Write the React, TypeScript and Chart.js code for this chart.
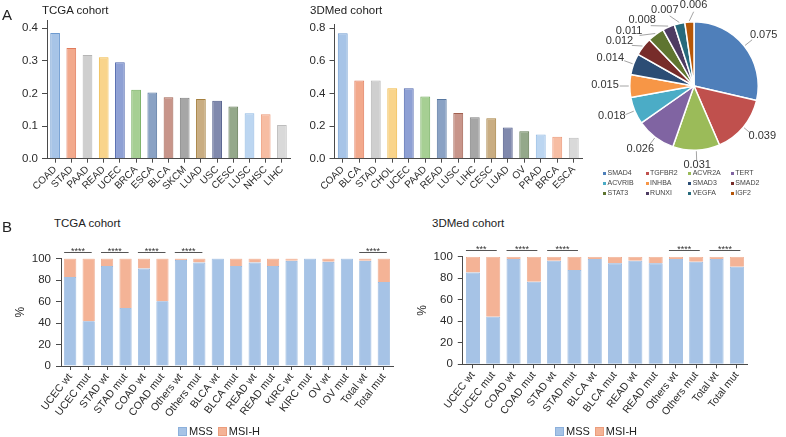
import React, { useEffect, useRef } from 'react';
import { Chart, registerables } from 'chart.js';

Chart.register(...registerables);

const FONT = 'Arial, "Liberation Sans", Helvetica, sans-serif';
Chart.defaults.font.family = FONT;

// ---------- Panel A: TCGA cohort ----------
const tcgaCancers = ['COAD', 'STAD', 'PAAD', 'READ', 'UCEC', 'BRCA', 'ESCA', 'BLCA', 'SKCM', 'LUAD', 'USC', 'CESC', 'LUSC', 'NHSC', 'LIHC'];
const tcgaFreq = [0.385, 0.339, 0.318, 0.311, 0.296, 0.211, 0.203, 0.188, 0.187, 0.183, 0.178, 0.160, 0.139, 0.136, 0.103];
const tcgaYTicks = [0, 0.1, 0.2, 0.3, 0.4];

// ---------- Panel A: 3DMed cohort ----------
const medCancers = ['COAD', 'BLCA', 'STAD', 'CHOL', 'UCEC', 'PAAD', 'READ', 'LUSC', 'LIHC', 'CESC', 'LUAD', 'OV', 'PRAD', 'BRCA', 'ESCA'];
const medFreq = [0.769, 0.479, 0.479, 0.432, 0.432, 0.381, 0.366, 0.280, 0.254, 0.248, 0.192, 0.168, 0.149, 0.135, 0.129];
const medYTicks = [0, 0.2, 0.4, 0.6, 0.8];

const barFills = ['#a7c4e7', '#f2a98c', '#cfcfcf', '#f9d48b', '#8ea0d4', '#a6cf93', '#8aa2c4', '#c8958a', '#a6a6a6', '#c9ad82', '#8089ad', '#94a88a', '#bcd6f1', '#f7bda3', '#d9d9d9'];
const barEdges = ['#6e9bd0', '#e07b5c', '#b5b5b5', '#efb845', '#4f66ad', '#73ad5e', '#5777a0', '#a2604f', '#808080', '#a5803f', '#4e5a88', '#627a53', '#8fb8e2', '#ec9877', '#bdbdbd'];

// ---------- Panel A: pie ----------
const pieGenes = ['SMAD4', 'TGFBR2', 'ACVR2A', 'TERT', 'ACVRIB', 'INHBA', 'SMAD3', 'SMAD2', 'STAT3', 'RUNXI', 'VEGFA', 'IGF2'];
const pieFreq = [0.075, 0.039, 0.031, 0.026, 0.018, 0.015, 0.014, 0.012, 0.011, 0.008, 0.007, 0.006];
const pieColors = ['#4f7fba', '#c0504d', '#9bbb59', '#8064a2', '#4bacc6', '#f79646', '#2c4d75', '#772c2a', '#5f7530', '#4d3b62', '#276a7c', '#b65708'];

// ---------- Panel B: TCGA cohort ----------
const tcgaGroups = ['UCEC wt', 'UCEC mut', 'STAD wt', 'STAD mut', 'COAD wt', 'COAD mut', 'Others wt', 'Others mut', 'BLCA wt', 'BLCA mut', 'READ wt', 'READ mut', 'KIRC wt', 'KIRC mut', 'OV wt', 'OV mut', 'Total wt', 'Total mut'];
const tcgaMSS = [82.8, 41.6, 93, 54, 90.6, 60.3, 98.7, 96.2, 100, 93.1, 96.2, 93.1, 97.8, 100, 96.9, 100, 97.8, 78.1];
const tcgaMSIH = [17.2, 58.4, 7, 46, 9.4, 39.7, 1.3, 3.8, 0, 6.9, 3.8, 6.9, 2.2, 0, 3.1, 0, 2.2, 21.9];
const tcgaSigFrom = [0, 2, 4, 6, 16];
const tcgaSigText = ['****', '****', '****', '****', '****'];

// ---------- Panel B: 3DMed cohort ----------
const medGroups = ['UCEC wt', 'UCEC mut', 'COAD wt', 'COAD mut', 'STAD wt', 'STAD mut', 'BLCA wt', 'BLCA mut', 'READ wt', 'READ mut', 'Others wt', 'Others mut', 'Total wt', 'Total mut'];
const medMSS = [85.4, 44.3, 97.8, 76.8, 96.3, 87.6, 97.8, 93.8, 96.3, 93.8, 97.8, 95.4, 97.8, 90.7];
const medMSIH = [14.6, 55.7, 2.2, 23.2, 3.7, 12.4, 2.2, 6.2, 3.7, 6.2, 2.2, 4.6, 2.2, 9.3];
const medSigFrom = [0, 2, 4, 10, 12];
const medSigText = ['***', '****', '****', '****', '****'];

const pctTicks = [0, 20, 40, 60, 80, 100];

const MSS_FILL = '#a6c3e6';
const MSS_EDGE = '#8cb0db';
const MSIH_FILL = '#f4b396';
const MSIH_EDGE = '#eb9d7c';
const AXIS = '#4a4a4a';
const TEXT = '#2b2b2b';

// significance bars above paired columns
const sigPlugin = {
  id: 'sigBars',
  afterDraw(chart: any, _a: any, opts: any) {
    if (!opts || !opts.from) return;
    const { ctx, chartArea } = chart;
    const meta = chart.getDatasetMeta(0);
    const y = Math.round(chartArea.top - opts.lift) + 0.5;
    ctx.save();
    ctx.strokeStyle = '#555';
    ctx.lineWidth = 1;
    ctx.fillStyle = '#333';
    ctx.font = `9px ${FONT}`;
    ctx.textAlign = 'center';
    ctx.textBaseline = 'alphabetic';
    opts.from.forEach((i: number, k: number) => {
      const b1 = meta.data[i];
      const b2 = meta.data[i + 1];
      const x0 = b1.x - b1.width / 2;
      const x1 = b2.x + b2.width * 0.25;
      ctx.beginPath();
      ctx.moveTo(x0, y);
      ctx.lineTo(x1, y);
      ctx.stroke();
      ctx.fillText(opts.text[k], (x0 + x1) / 2, y + 1.5);
    });
    ctx.restore();
  },
};

// y tick labels for the frequency panels, placed with the chart's own y scale
const yLabelPlugin = {
  id: 'yLabels',
  afterDraw(chart: any, _a: any, opts: any) {
    if (!opts || !opts.values) return;
    const { ctx } = chart;
    const ys = chart.scales.y;
    ctx.save();
    ctx.fillStyle = TEXT;
    ctx.font = `11.5px ${FONT}`;
    ctx.textAlign = 'right';
    ctx.textBaseline = 'middle';
    opts.values.forEach((v: number) => {
      ctx.fillText(v.toFixed(1), ys.right - opts.offset, ys.getPixelForValue(v));
    });
    ctx.restore();
  },
};

// value labels with leader lines around the pie
const pieLabelsPlugin = {
  id: 'pieLabels',
  afterDatasetsDraw(chart: any) {
    const ctx = chart.ctx;
    const meta = chart.getDatasetMeta(0);
    const ds = chart.data.datasets[0];
    ctx.save();
    ctx.font = `11px ${FONT}`;
    const h = 9;
    const gap = 10;
    const items = meta.data.map((arc: any, i: number) => {
      const mid = (arc.startAngle + arc.endAngle) / 2;
      const text = Number(ds.data[i]).toFixed(3);
      return { mid, phi: mid, cx: arc.x, cy: arc.y, r: arc.outerRadius, text, w: ctx.measureText(text).width };
    });
    const box = (it: any) => {
      const ax = it.cx + (it.r + gap) * Math.cos(it.phi);
      const ay = it.cy + (it.r + gap) * Math.sin(it.phi);
      const bx = ax + (it.w / 2 + 1) * Math.cos(it.phi);
      const by = ay + (h / 2 + 1) * Math.sin(it.phi);
      return { ax, ay, bx, by, x0: bx - it.w / 2, x1: bx + it.w / 2, y0: by - h / 2, y1: by + h / 2 };
    };
    const overlap = (a: any, b: any) => a.x0 < b.x1 + 1 && b.x0 < a.x1 + 1 && a.y0 < b.y1 + 1.5 && b.y0 < a.y1 + 1.5;
    for (let iter = 0; iter < 3000; iter++) {
      let moved = false;
      for (let i = 0; i < items.length; i++) {
        const j = (i + 1) % items.length;
        if (overlap(box(items[i]), box(items[j]))) {
          items[i].phi -= 0.003;
          items[j].phi += 0.001;
          moved = true;
        }
      }
      if (!moved) break;
    }
    ctx.strokeStyle = '#9a9a9a';
    ctx.lineWidth = 0.9;
    ctx.fillStyle = '#333';
    ctx.textAlign = 'center';
    ctx.textBaseline = 'middle';
    items.forEach((it: any) => {
      const b = box(it);
      const ex = it.cx + (it.r + 1) * Math.cos(it.mid);
      const ey = it.cy + (it.r + 1) * Math.sin(it.mid);
      ctx.beginPath();
      ctx.moveTo(ex, ey);
      ctx.lineTo(b.ax, b.ay);
      ctx.stroke();
      ctx.fillText(it.text, b.bx, b.by - 1);
    });
    ctx.restore();
  },
};

function axisCommon(tickLen: number) {
  return {
    grid: { display: true, drawOnChartArea: false, drawTicks: true, tickLength: tickLen, color: AXIS, lineWidth: 1, offset: false },
    border: { display: true, color: AXIS, width: 1 },
  };
}

function freqBarConfig(labels: string[], values: number[], yTicks: number[], top: number, yMax: number, yWidth: number, rightPad: number, canvasH: number, bottomY: number) {
  return {
    type: 'bar',
    data: {
      labels,
      datasets: [{ data: values, backgroundColor: barFills, borderColor: barEdges, borderWidth: 1, barPercentage: 0.6, categoryPercentage: 1 }],
    },
    options: {
      responsive: false,
      animation: false,
      layout: { padding: { left: 0, top, right: rightPad, bottom: 0 } },
      plugins: { legend: { display: false }, tooltip: { enabled: false }, yLabels: { values: yTicks, offset: 9 } },
      scales: {
        x: {
          ...axisCommon(4),
          offset: true,
          ticks: { autoSkip: false, minRotation: 45, maxRotation: 45, padding: 1, color: TEXT, font: { size: 10, family: FONT } },
          afterFit: (s: any) => { s.height = canvasH - bottomY; },
        },
        y: {
          ...axisCommon(5),
          min: 0,
          max: yMax,
          afterBuildTicks: (s: any) => { s.ticks = yTicks.map((v) => ({ value: v })); },
          ticks: { display: false, autoSkip: false },
          afterFit: (s: any) => { s.width = yWidth; },
        },
      },
    },
    plugins: [yLabelPlugin],
  };
}

function msiConfig(labels: string[], mss: number[], msih: number[], sigFrom: number[], sigText: string[], top: number, yWidth: number, rightPad: number, canvasH: number, bottomY: number, barPct: number, titlePad: number) {
  return {
    type: 'bar',
    data: {
      labels,
      datasets: [
        { label: 'MSS', data: mss, backgroundColor: MSS_FILL, borderColor: MSS_EDGE, borderWidth: 0.8, barPercentage: barPct, categoryPercentage: 1 },
        { label: 'MSI-H', data: msih, backgroundColor: MSIH_FILL, borderColor: MSIH_EDGE, borderWidth: 0.8, barPercentage: barPct, categoryPercentage: 1 },
      ],
    },
    options: {
      responsive: false,
      animation: false,
      layout: { padding: { left: 0, top, right: rightPad, bottom: 0 } },
      plugins: {
        legend: { display: false },
        tooltip: { enabled: false },
        sigBars: { from: sigFrom, text: sigText, lift: 7 },
      },
      scales: {
        x: {
          ...axisCommon(4),
          stacked: true,
          offset: true,
          ticks: { autoSkip: false, minRotation: 52, maxRotation: 52, padding: 1, color: TEXT, font: { size: 10.5, family: FONT } },
          afterFit: (s: any) => { s.height = canvasH - bottomY; },
        },
        y: {
          ...axisCommon(5),
          stacked: true,
          min: 0,
          max: 100,
          afterBuildTicks: (s: any) => { s.ticks = pctTicks.map((v) => ({ value: v })); },
          ticks: { autoSkip: false, padding: 5, color: TEXT, font: { size: 11.5, family: FONT } },
          title: { display: true, text: '%', color: TEXT, font: { size: 12, family: FONT }, padding: { top: titlePad, bottom: 0 } },
          afterFit: (s: any) => { s.width = yWidth; },
        },
      },
    },
    plugins: [sigPlugin],
  };
}

function ChartBox({ left, top, width, height, make }: { left: number; top: number; width: number; height: number; make: () => any }) {
  const ref = useRef<HTMLCanvasElement>(null);
  useEffect(() => {
    const chart = new Chart(ref.current as HTMLCanvasElement, make());
    return () => chart.destroy();
  }, []);
  return (
    <div style={{ position: 'absolute', left, top, width, height }}>
      <canvas ref={ref} width={width} height={height} style={{ width, height, display: 'block' }} />
    </div>
  );
}

function Label({ left, top, size, text }: { left: number; top: number; size: number; text: string }) {
  return (
    <div style={{ position: 'absolute', left, top, fontSize: size, lineHeight: 1, color: '#222', whiteSpace: 'nowrap' }}>{text}</div>
  );
}

function MsiLegend({ left, top }: { left: number; top: number }) {
  const items = [
    { name: 'MSS', fill: MSS_FILL, edge: MSS_EDGE },
    { name: 'MSI-H', fill: MSIH_FILL, edge: MSIH_EDGE },
  ];
  return (
    <div style={{ position: 'absolute', left, top, display: 'flex', alignItems: 'center', fontSize: 11, lineHeight: 1, color: '#222' }}>
      {items.map((it, i) => (
        <div key={it.name} style={{ display: 'flex', alignItems: 'center', marginRight: i === 0 ? 5 : 0 }}>
          <div style={{ width: 7, height: 7, background: it.fill, border: `0.5px solid ${it.edge}`, marginRight: 2 }} />
          <span>{it.name}</span>
        </div>
      ))}
    </div>
  );
}

function PieLegend({ left, top }: { left: number; top: number }) {
  return (
    <div style={{ position: 'absolute', left, top, display: 'grid', gridTemplateColumns: 'repeat(4, 42.6px)', gridAutoRows: '10px', fontSize: 7, color: '#444', lineHeight: '10px' }}>
      {pieGenes.map((g, i) => (
        <div key={g} style={{ display: 'flex', alignItems: 'center', whiteSpace: 'nowrap' }}>
          <div style={{ width: 3, height: 3, background: pieColors[i], marginRight: 1.5 }} />
          <span>{g}</span>
        </div>
      ))}
    </div>
  );
}

export default function App() {
  return (
    <div style={{ position: 'absolute', left: 0, top: 0, width: 786, height: 437, background: '#fff', fontFamily: FONT, overflow: 'hidden' }}>
      <ChartBox left={0} top={0} width={300} height={200}
        make={() => freqBarConfig(tcgaCancers, tcgaFreq, tcgaYTicks, 20.7, 0.423, 47, 10, 200, 158.7)} />
      <ChartBox left={290} top={0} width={300} height={200}
        make={() => freqBarConfig(medCancers, medFreq, medYTicks, 24, 0.826, 44.5, 8, 200, 158.7)} />
      <ChartBox left={590} top={0} width={196} height={170}
        make={() => ({
          type: 'pie',
          data: { labels: pieGenes, datasets: [{ data: pieFreq, backgroundColor: pieColors, borderColor: '#ffffff', borderWidth: 1.5 }] },
          options: {
            responsive: false,
            animation: false,
            layout: { padding: { left: 39, top: 21, right: 27, bottom: 19 } },
            plugins: { legend: { display: false }, tooltip: { enabled: false } },
          },
          plugins: [pieLabelsPlugin],
        })} />
      <ChartBox left={0} top={240} width={400} height={197}
        make={() => msiConfig(tcgaGroups, tcgaMSS, tcgaMSIH, tcgaSigFrom, tcgaSigText, 18.5, 61, 7, 197, 126, 0.66, 13.8)} />
      <ChartBox left={400} top={240} width={386} height={197}
        make={() => msiConfig(medGroups, medMSS, medMSIH, medSigFrom, medSigText, 16.7, 62.8, 39, 197, 124.3, 0.69, 15.3)} />

      <Label left={2} top={6.7} size={15} text="A" />
      <Label left={2} top={218.7} size={15} text="B" />
      <Label left={42} top={5.3} size={11.5} text="TCGA cohort" />
      <Label left={310} top={5.3} size={11.5} text="3DMed cohort" />
      <Label left={54} top={218} size={11.5} text="TCGA cohort" />
      <Label left={432} top={218} size={11.5} text="3DMed cohort" />

      <PieLegend left={603} top={168} />
      <MsiLegend left={178} top={426} />
      <MsiLegend left={555} top={426} />
    </div>
  );
}
